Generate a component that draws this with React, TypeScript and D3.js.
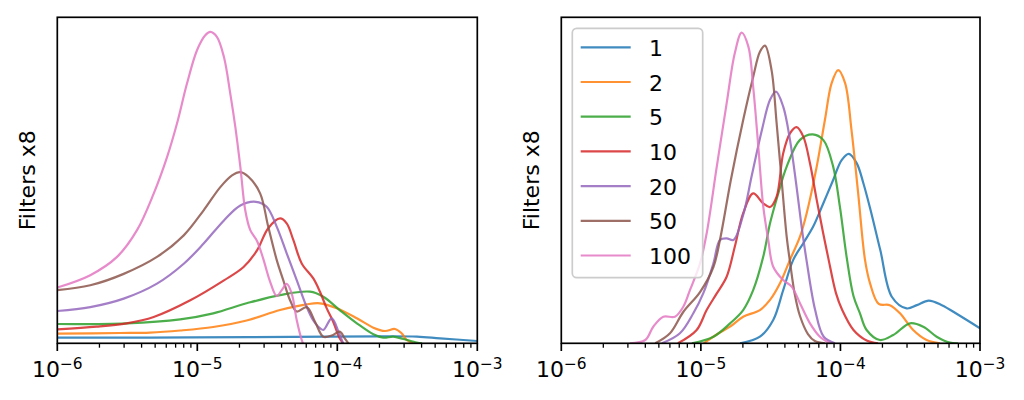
import React, { useRef, useEffect } from "react";
import * as d3 from "d3";

type Pt = [number, number];

const sizes = ["1", "2", "5", "10", "20", "50", "100"];
const colors = ["#1f77b4", "#ff7f0e", "#2ca02c", "#d62728", "#9467bd", "#8c564b", "#e377c2"];
const decadeExponents = [-6, -5, -4, -3];
const yLabel = "Filters x8";

const X_DOMAIN: [number, number] = [1e-6, 1e-3];
const Y_DOMAIN: [number, number] = [0, 100];

// left panel
const left1: Pt[] = [[1e-6, 1.72], [4.59e-6, 1.75], [2.38e-5, 1.87], [8.87e-5, 2.02], [2.02e-4, 2.15], [3.71e-4, 2.06], [5.42e-4, 1.53], [1e-3, 0.71]];
const left2: Pt[] = [[1e-6, 2.94], [2.81e-6, 3.16], [4.59e-6, 3.3], [7.55e-6, 3.93], [1.3e-5, 5.0], [2.25e-5, 7.0], [3.9e-5, 10.2], [6.04e-5, 11.96], [7.52e-5, 12.27], [9.91e-5, 10.74], [1.38e-4, 7.67], [1.81e-4, 4.79], [2.19e-4, 3.77], [2.58e-4, 4.39], [2.88e-4, 3.07], [3.13e-4, 1.01], [3.49e-4, 0]];
const left5: Pt[] = [[1e-6, 5.92], [3.13e-6, 6.13], [7.55e-6, 7.36], [1.3e-5, 9.2], [2.25e-5, 12.27], [3.9e-5, 14.8], [6.38e-5, 15.83], [7.94e-5, 14.3], [1.04e-4, 10.2], [1.38e-4, 6.13], [1.81e-4, 2.76], [2.13e-4, 1.72], [2.51e-4, 2.02], [2.96e-4, 1.32], [3.69e-4, 0.25], [4.03e-4, 0]];
const left10: Pt[] = [[1e-6, 4.29], [1.91e-6, 5.09], [3.13e-6, 6.13], [4.88e-6, 8.07], [8.91e-6, 13.19], [1.55e-5, 19.3], [2.14e-5, 23.4], [2.67e-5, 28.5], [3.21e-5, 35.3], [3.9e-5, 38.3], [4.35e-5, 36.8], [4.85e-5, 31.7], [5.57e-5, 24.5], [6.74e-5, 19.9], [7.52e-5, 15.8], [8.39e-5, 10.8], [9.36e-5, 6.53], [1.04e-4, 1.53], [1.1e-4, 0]];
const left20: Pt[] = [[1e-6, 9.9], [1.72e-6, 11.1], [2.98e-6, 13.7], [5.15e-6, 18.3], [8.0e-6, 24.4], [1.11e-5, 30.6], [1.55e-5, 37.7], [2.03e-5, 42.3], [2.62e-5, 43.4], [3.13e-5, 41.9], [3.69e-5, 35.8], [4.35e-5, 27.6], [5.13e-5, 19.4], [6.04e-5, 11.2], [6.7e-5, 7.15], [7.31e-5, 5.09], [7.94e-5, 4.08], [9.12e-5, 7.67], [1.02e-4, 3.56], [1.1e-4, 0]];
const left50: Pt[] = [[1e-6, 16.3], [1.72e-6, 17.8], [2.98e-6, 21.3], [5.15e-6, 26.5], [8.0e-6, 33.1], [1.11e-5, 40.8], [1.46e-5, 47.9], [1.77e-5, 51.5], [2.03e-5, 52.5], [2.33e-5, 51.0], [2.81e-5, 46.0], [3.21e-5, 35.8], [3.69e-5, 25.6], [4.11e-5, 19.4], [4.59e-5, 13.3], [5.13e-5, 9.75], [6.04e-5, 11.1], [6.93e-5, 6.63], [7.94e-5, 2.02], [9.12e-5, 2.39], [1.04e-4, 3.56], [1.13e-4, 1.53], [1.2e-4, 0]];
const left100: Pt[] = [[1e-6, 17.1], [1.72e-6, 20.9], [2.67e-6, 26.5], [3.71e-6, 34.7], [4.88e-6, 45.9], [6.08e-6, 57.1], [7.16e-6, 67.4], [8.43e-6, 79.6], [9.95e-6, 89.9], [1.14e-5, 94.5], [1.24e-5, 95.5], [1.38e-5, 94.0], [1.55e-5, 87.8], [1.72e-5, 76.6], [1.87e-5, 66.3], [2.03e-5, 54.1], [2.2e-5, 40.8], [2.39e-5, 34.7], [2.67e-5, 31.4], [2.96e-5, 25.9], [3.3e-5, 19.1], [3.69e-5, 14.5], [4.01e-5, 16.3], [4.35e-5, 18.2], [4.72e-5, 15.3], [5.13e-5, 7.15], [5.57e-5, 1.01], [5.69e-5, 0]];

// right panel
const right1: Pt[] = [[1.91e-5, 0], [2.65e-5, 2.02], [3.3e-5, 7.15], [3.89e-5, 16.3], [4.59e-5, 25.6], [5.42e-5, 30.7], [6.38e-5, 35.8], [7.53e-5, 42.9], [8.87e-5, 50.1], [1.02e-4, 56.2], [1.15e-4, 58.1], [1.31e-4, 55.2], [1.46e-4, 49.1], [1.63e-4, 41.5], [1.93e-4, 28.6], [2.34e-4, 14.2], [2.98e-4, 10.7], [3.53e-4, 11.7], [4.29e-4, 13.1], [5.33e-4, 11.7], [7.03e-4, 8.68], [1e-3, 4.6]];
const right2: Pt[] = [[1.05e-5, 0], [1.34e-5, 3.07], [1.62e-5, 5.09], [2.01e-5, 8.16], [2.65e-5, 10.2], [3.13e-5, 13.3], [3.69e-5, 18.4], [4.35e-5, 25.6], [5.13e-5, 32.7], [5.73e-5, 39.9], [6.76e-5, 54.2], [7.74e-5, 68.5], [8.65e-5, 79.8], [9.64e-5, 83.8], [1.08e-4, 79.8], [1.2e-4, 65.5], [1.34e-4, 46.0], [1.5e-4, 25.6], [1.63e-4, 18.4], [1.88e-4, 12.1], [2.26e-4, 11.7], [2.67e-4, 9.2], [3.32e-4, 4.08], [4.14e-4, 1.01], [5.16e-4, 0]];
const right5: Pt[] = [[8.63e-6, 0], [1.23e-5, 2.02], [1.62e-5, 6.13], [2.01e-5, 10.2], [2.37e-5, 16.3], [2.8e-5, 26.6], [3.13e-5, 36.8], [3.56e-5, 45.5], [4.12e-5, 54.2], [5.13e-5, 62.4], [6.32e-5, 64.1], [7.53e-5, 62.4], [8.87e-5, 54.2], [9.91e-5, 41.9], [1.11e-4, 26.2], [1.24e-4, 14.5], [1.38e-4, 9.2], [1.54e-4, 4.08], [1.92e-4, 1.01], [2.39e-4, 2.55], [3.15e-4, 6.13], [3.92e-4, 5.09], [4.89e-4, 2.02], [6.08e-4, 0.2], [6.95e-4, 0]];
const right10: Pt[] = [[6.85e-6, 0], [9.33e-6, 4.08], [1.1e-5, 10.2], [1.3e-5, 15.3], [1.53e-5, 20.4], [1.75e-5, 29.6], [2.01e-5, 39.9], [2.37e-5, 46.0], [2.8e-5, 42.9], [3.13e-5, 41.8], [3.49e-5, 45.0], [3.89e-5, 58.3], [4.35e-5, 64.4], [4.85e-5, 66.3], [5.42e-5, 63.4], [6.05e-5, 55.2], [6.76e-5, 44.0], [7.53e-5, 33.7], [8.18e-5, 26.2], [9.29e-5, 15.4], [1.03e-4, 10.2], [1.24e-4, 4.08], [1.54e-4, 0.86], [1.86e-4, 0]];
const right20: Pt[] = [[5.26e-6, 0], [7.08e-6, 3.07], [8.83e-6, 9.2], [1.04e-5, 15.3], [1.23e-5, 24.5], [1.37e-5, 31.7], [1.53e-5, 32.2], [1.71e-5, 31.7], [2.01e-5, 39.4], [2.32e-5, 51.6], [2.74e-5, 65.5], [3.13e-5, 74.7], [3.45e-5, 77.2], [3.89e-5, 72.6], [4.35e-5, 62.4], [4.85e-5, 48.0], [5.27e-5, 35.8], [5.71e-5, 25.6], [6.59e-5, 10.2], [7.59e-5, 2.02], [9.14e-5, 0]];
const right50: Pt[] = [[4.71e-6, 0], [6.01e-6, 3.07], [7.48e-6, 9.6], [9.86e-6, 15.7], [1.23e-5, 23.4], [1.37e-5, 31.7], [1.64e-5, 50.1], [2.01e-5, 68.5], [2.37e-5, 81.7], [2.65e-5, 89.4], [2.88e-5, 91.3], [3.21e-5, 83.8], [3.49e-5, 67.5], [3.79e-5, 50.1], [4.12e-5, 32.7], [4.35e-5, 25.0], [4.72e-5, 14.8], [5.13e-5, 8.37], [5.85e-5, 2.85], [6.56e-5, 0.7], [7.74e-5, 0]];
const right100: Pt[] = [[3.1e-6, 0], [4.0e-6, 1.01], [4.56e-6, 5.09], [5.38e-6, 8.16], [6.52e-6, 8.16], [7.48e-6, 11.2], [8.35e-6, 16.3], [9.86e-6, 24.5], [1.1e-5, 33.7], [1.3e-5, 54.2], [1.53e-5, 73.6], [1.75e-5, 89.0], [1.96e-5, 95.3], [2.19e-5, 91.0], [2.37e-5, 78.7], [2.58e-5, 60.3], [2.8e-5, 41.9], [3.04e-5, 31.7], [3.3e-5, 23.5], [3.89e-5, 19.4], [4.47e-5, 17.4], [5.13e-5, 12.3], [6.05e-5, 6.13], [7.13e-5, 2.02], [8.41e-5, 0]];

const leftSeries = [left1, left2, left5, left10, left20, left50, left100];
const rightSeries = [right1, right2, right5, right10, right20, right50, right100];

const font = "DejaVu Sans, sans-serif";
const top = 17.3;
const bottom = 343.3;

const panels = [
  { x0: 57.3, x1: 477.3, labelX: 35, series: leftSeries, legend: false },
  { x0: 561.3, x1: 980, labelX: 538.7, series: rightSeries, legend: true },
];

export default function App() {
  const svgRef = useRef<SVGSVGElement>(null);

  useEffect(() => {
    if (!svgRef.current) return;
    const svg = d3.select(svgRef.current);
    svg.selectAll("*").remove();

    panels.forEach((p, pi) => {
      const x = d3.scaleLog().domain(X_DOMAIN).range([p.x0, p.x1]);
      const y = d3.scaleLinear().domain(Y_DOMAIN).range([bottom, top]);
      const g = svg.append("g");

      // keep the curves inside the axes box
      const clipId = `clip-${pi}`;
      svg.append("clipPath")
        .attr("id", clipId)
        .append("rect")
        .attr("x", p.x0)
        .attr("y", top)
        .attr("width", p.x1 - p.x0)
        .attr("height", bottom - top);

      const line = d3.line<Pt>()
        .x((d) => x(d[0]))
        .y((d) => Math.min(y(d[1]), bottom))
        .curve(d3.curveCatmullRom.alpha(0.5));

      const lines = g.append("g").attr("clip-path", `url(#${clipId})`);
      p.series.forEach((s, i) => {
        lines.append("path")
          .attr("d", line(s))
          .attr("fill", "none")
          .attr("stroke", colors[i])
          .attr("stroke-width", 2.2)
          .attr("stroke-opacity", 0.85)
          .attr("stroke-linejoin", "round");
      });

      // frame
      g.append("rect")
        .attr("x", p.x0)
        .attr("y", top)
        .attr("width", p.x1 - p.x0)
        .attr("height", bottom - top)
        .attr("fill", "none")
        .attr("stroke", "#000")
        .attr("stroke-width", 1.7);

      // ticks
      x.ticks().forEach((t) => {
        const lg = Math.log10(t);
        const major = Math.abs(lg - Math.round(lg)) < 1e-6;
        g.append("line")
          .attr("x1", x(t))
          .attr("x2", x(t))
          .attr("y1", bottom)
          .attr("y2", bottom + (major ? 7.7 : 4.4))
          .attr("stroke", "#000")
          .attr("stroke-width", major ? 1.7 : 1.3);
      });

      decadeExponents.forEach((e) => {
        const t = g.append("text")
          .attr("x", x(Math.pow(10, e)))
          .attr("y", 377.3)
          .attr("text-anchor", "middle")
          .attr("font-family", font)
          .attr("font-size", 22)
          .attr("fill", "#000");
        t.append("tspan").text("10");
        t.append("tspan")
          .attr("dy", -8)
          .attr("font-size", 15.4)
          .text("\u2212" + Math.abs(e));
      });

      g.append("text")
        .attr("transform", `translate(${p.labelX}, ${(top + bottom) / 2}) rotate(-90)`)
        .attr("text-anchor", "middle")
        .attr("font-family", font)
        .attr("font-size", 22)
        .attr("fill", "#000")
        .text(yLabel);

      if (p.legend) {
        const lg = g.append("g");
        lg.append("rect")
          .attr("x", 572.3)
          .attr("y", 28.3)
          .attr("width", 130.4)
          .attr("height", 249.4)
          .attr("rx", 4.4)
          .attr("fill", "#fff")
          .attr("fill-opacity", 0.8)
          .attr("stroke", "#cccccc")
          .attr("stroke-width", 1.7);
        sizes.forEach((s, i) => {
          const ry = 47.3 + 34.7 * i;
          lg.append("line")
            .attr("x1", 580.7)
            .attr("x2", 630.7)
            .attr("y1", ry)
            .attr("y2", ry)
            .attr("stroke", colors[i])
            .attr("stroke-opacity", 0.85)
            .attr("stroke-width", 2.2);
          lg.append("text")
            .attr("x", 649)
            .attr("y", ry + 8.5)
            .attr("font-family", font)
            .attr("font-size", 22)
            .attr("fill", "#000")
            .text(s);
        });
      }
    });
  }, []);

  return (
    <svg
      ref={svgRef}
      width={1024}
      height={400}
      style={{ position: "absolute", left: 0, top: 0, background: "#fff" }}
    />
  );
}
